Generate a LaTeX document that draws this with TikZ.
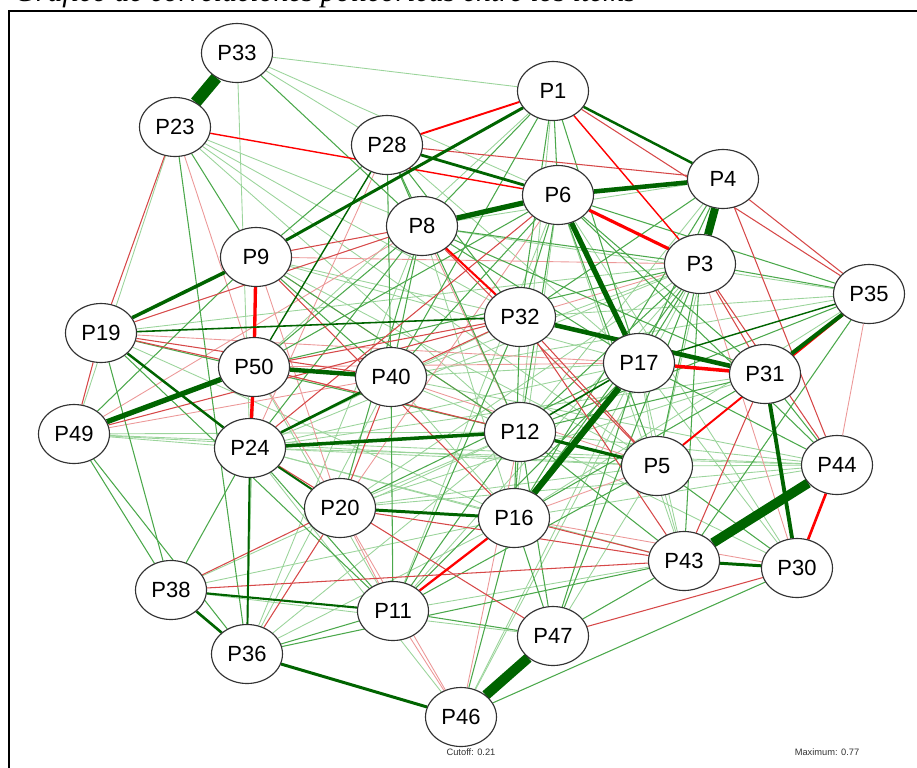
\documentclass[tikz,border=0pt]{standalone}
\usepackage{fontspec}
\setmainfont{Liberation Serif}
\setsansfont{Liberation Sans}
\usetikzlibrary{shapes.geometric,backgrounds}
\definecolor{posdark}{RGB}{0,100,0}
\definecolor{posmid}{RGB}{75,168,75}
\definecolor{poslight}{RGB}{155,212,155}
\definecolor{negdark}{RGB}{255,0,0}
\definecolor{negmid}{RGB}{214,72,72}
\definecolor{neglight}{RGB}{236,152,152}
\definecolor{rim}{RGB}{50,50,50}
\tikzset{
  item/.style={ellipse,draw=rim,fill=white,line width=0.65pt,minimum width=1.42cm,
    minimum height=1.18cm,inner sep=0pt,font=\sffamily\fontsize{12.5}{14}\selectfont},
  posedge/.style={draw=posdark},
  negedge/.style={draw=negdark},
  ga/.style={draw=poslight,line width=0.5pt},
  gb/.style={draw=posmid,line width=0.6pt},
  ra/.style={draw=neglight,line width=0.5pt},
  rb/.style={draw=negmid,line width=0.6pt},
  legend/.style={font=\sffamily\fontsize{5.3}{6}\selectfont,text=black!80,inner sep=0pt}
}
\begin{document}
\begin{tikzpicture}[x=0.02cm,y=-0.02cm]
\useasboundingbox (0,0) rectangle (917,768);
% title, cut at the top
\begin{scope}
  \clip (0,0) rectangle (917,9.5);
  \node[anchor=base west,inner sep=0pt,font=\itshape\fontsize{17}{19}\selectfont] (title) at (14,1.5) {Gráfico de correlaciones policóricas entre los ítems};
\end{scope}
\draw[line width=1.2pt] (9,768)--(9,11)--(917,11);
% items
\node[item] (P33) at (237,53) {P33};
\node[item] (P23) at (175,127) {P23};
\node[item] (P28) at (387,145) {P28};
\node[item] (P1) at (553,91) {P1};
\node[item] (P6) at (558,195) {P6};
\node[item] (P4) at (723,179) {P4};
\node[item] (P8) at (422,226) {P8};
\node[item] (P9) at (256,257) {P9};
\node[item] (P3) at (700,264) {P3};
\node[item] (P35) at (869,294) {P35};
\node[item] (P19) at (101,333) {P19};
\node[item] (P32) at (520,317) {P32};
\node[item] (P50) at (254,367) {P50};
\node[item] (P40) at (391,377) {P40};
\node[item] (P17) at (639,363) {P17};
\node[item] (P31) at (765,374) {P31};
\node[item] (P49) at (74,434) {P49};
\node[item] (P24) at (250,448) {P24};
\node[item] (P12) at (520,432) {P12};
\node[item] (P5) at (657,466) {P5};
\node[item] (P44) at (837,465) {P44};
\node[item] (P20) at (340,508) {P20};
\node[item] (P16) at (514,518) {P16};
\node[item] (P43) at (684,561) {P43};
\node[item] (P30) at (797,568) {P30};
\node[item] (P38) at (171,590) {P38};
\node[item] (P11) at (393,611) {P11};
\node[item] (P47) at (553,636) {P47};
\node[item] (P36) at (247,654) {P36};
\node[item] (P46) at (461,717) {P46};
% correlations, behind the items
\begin{scope}[on background layer]
\foreach \a/\b in {P33/P28,P33/P6,P33/P1,P33/P24,P23/P49,P23/P12,P23/P32,P23/P8,P23/P5,
  P1/P50,P1/P12,P6/P16,P6/P43,P6/P30,P4/P8,P4/P5,P4/P12,P3/P11,P3/P20,P3/P24,P3/P40,
  P3/P19,P3/P46,P35/P8,P35/P32,P35/P40,P35/P16,P31/P24,P31/P20,P44/P12,P44/P5,P44/P24,
  P44/P20,P44/P40,P44/P16,P44/P49,P30/P17,P30/P12,P43/P24,P43/P17,P43/P5,P43/P11,
  P47/P38,P47/P5,P46/P17,P46/P24,P11/P50,P11/P6,P36/P16,P36/P12,P36/P40,P36/P50,P36/P9,
  P38/P16,P38/P12,P20/P12,P20/P5,P16/P24,P16/P40,P12/P40,P12/P49,P5/P24,P5/P49,P5/P9,
  P5/P17,P17/P40,P17/P24,P17/P9,P17/P28,P32/P24,P32/P9,P49/P24,P19/P16,P8/P16,P8/P36}
  \draw[ga] (\a)--(\b);
\foreach \a/\b in {P23/P50,P28/P24,P35/P44,P30/P3,P30/P16,P11/P20,P46/P20,P46/P11,P46/P12,
  P20/P9,P20/P50,P12/P8,P12/P9,P5/P16,P5/P40,P50/P17,P50/P5,P17/P19,P32/P3,P3/P9,
  P40/P49,P8/P49,P6/P20,P24/P9}
  \draw[ra] (\a)--(\b);
\foreach \a/\b in {P33/P8,P23/P9,P23/P36,P28/P9,P28/P40,P28/P12,P28/P8,P28/P32,
  P1/P6,P1/P32,P1/P17,P1/P8,P1/P40,P6/P32,P6/P12,P6/P5,P6/P40,P6/P50,P6/P31,P6/P35,P6/P44,
  P4/P17,P4/P16,P4/P32,P3/P35,P3/P17,P3/P16,P3/P12,P3/P5,P3/P43,P3/P47,P3/P50,P3/P8,
  P35/P12,P35/P43,P31/P44,P31/P16,P31/P12,P44/P17,P30/P5,P30/P46,P43/P36,P43/P47,P43/P12,
  P47/P16,P47/P17,P47/P12,P47/P11,P46/P16,P11/P36,P11/P12,P11/P17,P11/P32,P11/P40,P11/P5,
  P11/P19,P38/P24,P38/P19,P38/P49,P49/P36,P20/P17,P20/P8,P16/P32,P16/P12,P40/P8,P40/P9,
  P50/P8,P9/P12,P49/P9,P24/P8,P24/P11,P8/P17,P8/P31,P19/P12}
  \draw[gb] (\a)--(\b);
\foreach \a/\b in {P23/P19,P28/P4,P4/P44,P4/P35,P1/P35,P3/P31,P3/P44,P30/P47,P43/P38,
  P43/P20,P43/P32,P38/P20,P36/P20,P20/P40,P24/P47,P8/P19,P8/P9,P19/P49,P19/P50,P19/P40,
  P31/P43,P16/P43,P32/P40,P32/P50,P50/P12,P32/P5,P8/P5,P9/P16,P6/P24,P49/P32}
  \draw[rb] (\a)--(\b);
% strong ones
\foreach \a/\b/\w in {P9/P50/1.9,P50/P24/1.9,P6/P3/1.8,P17/P31/2.0,P44/P30/1.5,P35/P5/1.1,
  P8/P32/1.2,P28/P1/1.1,P1/P3/0.8,P16/P11/1.3,P23/P6/0.8}
  \draw[negedge,line width=\w pt] (\a)--(\b);
\foreach \a/\b/\w in {P19/P32/0.9,P12/P17/0.9,P50/P28/0.8,P35/P17/0.8,P24/P36/1.1,
  P24/P20/1.1,P38/P11/1.2,P38/P36/1.5,P36/P46/1.7,P43/P30/1.7,P20/P16/1.7,P19/P24/1.4,
  P24/P40/1.5,P28/P6/1.6,P1/P4/1.4,P9/P1/1.7,P9/P19/2.0,P12/P5/1.8,P24/P12/2.0,
  P50/P40/2.5,P31/P30/2.2,P35/P31/2.3,P32/P31/2.6,P50/P49/3.0,P6/P4/2.6,P8/P6/3.0,
  P6/P17/3.0,P17/P16/3.6,P4/P3/4.5,P44/P43/5.5,P47/P46/5.8,P33/P23/6.8}
  \draw[posedge,line width=\w pt] (\a)--(\b);
\end{scope}
\node[legend] (cutoff) at (471,752) {Cutoff: 0.21};
\node[legend] (maximum) at (827,752) {Maximum: 0.77};
\end{tikzpicture}
\end{document}
